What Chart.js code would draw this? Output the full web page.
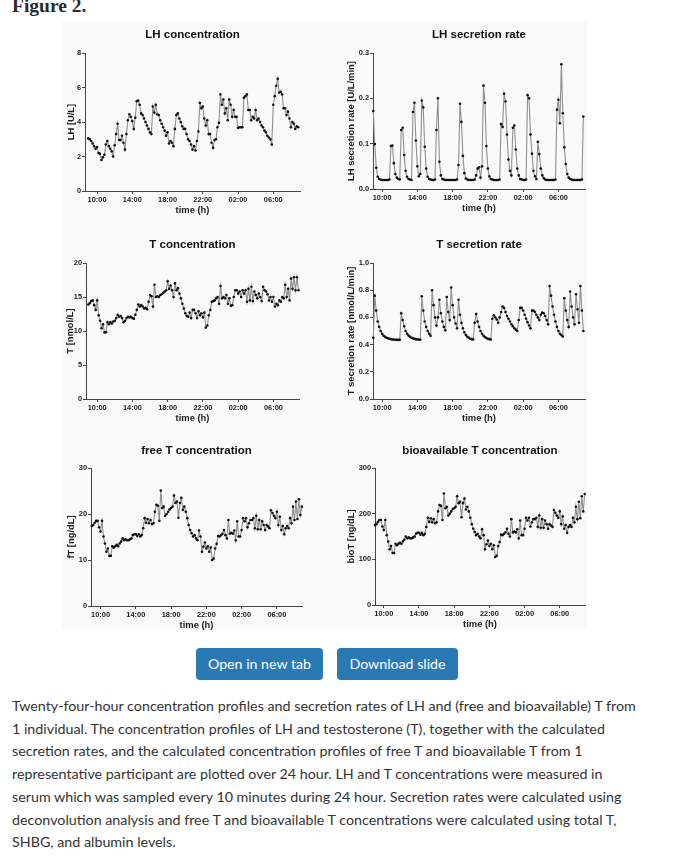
<!DOCTYPE html>
<html>
<head>
<meta charset="utf-8">
<script src="https://cdn.jsdelivr.net/npm/chart.js@4.4.0/dist/chart.umd.min.js"></script>
<style>
  body { margin: 0; background: #fff; width: 681px; height: 867px; overflow: hidden; position: relative; font-family: Lato, 'Open Sans', sans-serif; }
  .fig-head { position: absolute; left: 12px; top: -4px; font: bold 19.5px/19.5px 'Liberation Serif', serif; color: #2a2a2a; white-space: nowrap; }
  .figbox { position: absolute; left: 62px; top: 22px; width: 525px; height: 608px; background: #f9f9f9; }
  canvas { position: absolute; }
  .btn { position: absolute; top: 648px; height: 32px; line-height: 32px; background: #2a79b5; color: #fff; border-radius: 4px; font-size: 14.2px; text-align: center; }
  .caption { position: absolute; left: 12px; top: 695px; line-height: 22.7px; color: #333; white-space: nowrap; font-size: 16px; }
  .caption span { display: block; }
</style>
</head>
<body>
<div class="fig-head">Figure 2.</div>
<div class="figbox"></div>
<canvas id="c1"></canvas>
<canvas id="c2"></canvas>
<canvas id="c3"></canvas>
<canvas id="c4"></canvas>
<canvas id="c5"></canvas>
<canvas id="c6"></canvas>
<div class="btn" style="left:196px;width:127px;">Open in new tab</div>
<div class="btn" style="left:337px;width:121px;">Download slide</div>
<div class="caption" id="caption">
  <span id="capLine1">Twenty-four-hour concentration profiles and secretion rates of LH and (free and bioavailable) T from</span>
  <span>1 individual. The concentration profiles of LH and testosterone (T), together with the calculated</span>
  <span>secretion rates, and the calculated concentration profiles of free T and bioavailable T from 1</span>
  <span>representative participant are plotted over 24 hour. LH and T concentrations were measured in</span>
  <span>serum which was sampled every 10 minutes during 24 hour. Secretion rates were calculated using</span>
  <span>deconvolution analysis and free T and bioavailable T concentrations were calculated using total T,</span>
  <span>SHBG, and albumin levels.</span>
</div>
<script>
// samples every 10 min, first one at 09:00
const lhConc = [
  3.05,3.0,2.9,2.75,2.6,2.45,2.55,2.2,2.15,1.8,
  1.95,2.1,2.7,2.9,2.6,2.45,2.3,2.0,2.65,3.3,
  3.9,2.95,2.95,3.2,2.8,2.4,3.3,4.1,4.45,4.3,
  4.05,3.6,4.25,5.2,5.25,5.0,4.5,4.4,4.2,4.0,
  3.8,3.6,3.4,3.3,4.9,4.55,5.0,4.45,4.4,4.1,
  3.9,3.7,3.5,3.2,3.4,2.75,2.9,2.8,2.6,3.6,
  4.4,4.5,4.2,4.0,3.75,3.6,3.6,3.3,3.0,2.9,
  2.7,2.4,2.6,2.35,2.9,3.45,5.1,4.8,4.9,4.2,
  3.8,4.1,3.3,3.3,2.8,2.5,2.95,3.0,3.7,3.95,
  5.6,5.0,5.3,4.5,4.8,4.1,5.3,5.0,4.3,4.7,
  4.3,4.3,3.65,3.7,3.7,3.7,5.4,5.5,5.6,4.7,
  4.7,4.1,4.3,4.2,4.7,4.1,4.2,4.0,3.8,3.7,
  3.5,3.4,3.2,3.1,3.0,2.7,5.0,5.5,6.1,6.5,
  5.7,5.75,5.6,4.8,4.8,4.4,4.6,4.2,3.7,4.0,
  3.9,3.6,3.75,3.7
];
const lhSecretion = [
  0.172,0.099,0.047,0.027,0.022,0.021,0.02,0.02,0.02,0.02,
  0.02,0.021,0.095,0.096,0.057,0.033,0.025,0.022,0.021,0.13,
  0.135,0.075,0.04,0.027,0.022,0.021,0.02,0.17,0.19,0.107,
  0.05,0.028,0.033,0.195,0.18,0.093,0.045,0.027,0.022,0.021,
  0.02,0.02,0.021,0.13,0.2,0.06,0.03,0.022,0.021,0.02,
  0.02,0.02,0.02,0.02,0.02,0.02,0.02,0.021,0.053,0.188,
  0.148,0.073,0.035,0.023,0.021,0.02,0.02,0.02,0.02,0.021,
  0.03,0.045,0.048,0.025,0.05,0.228,0.19,0.095,0.045,0.028,
  0.022,0.021,0.02,0.02,0.02,0.02,0.021,0.143,0.137,0.21,
  0.193,0.12,0.065,0.04,0.03,0.135,0.14,0.087,0.045,0.03,
  0.022,0.021,0.02,0.02,0.021,0.207,0.2,0.12,0.078,0.04,
  0.028,0.022,0.104,0.077,0.045,0.03,0.024,0.021,0.02,0.02,
  0.02,0.02,0.02,0.02,0.021,0.175,0.197,0.145,0.275,0.167,
  0.092,0.055,0.033,0.025,0.022,0.021,0.02,0.02,0.02,0.02,
  0.02,0.02,0.021,0.16
];
const tConc = [
  13.9,14.1,14.4,14.5,13.8,13.1,14.5,12.3,11.5,10.4,
  11.0,9.8,9.8,11.3,11.0,11.3,11.1,11.4,11.5,11.9,
  12.4,12.1,12.2,11.9,11.3,11.5,11.9,12.1,12.0,12.1,
  11.9,11.8,12.4,13.1,13.9,13.6,13.8,13.6,13.3,13.4,
  13.2,14.3,15.3,15.1,13.6,16.8,15.0,15.1,15.0,15.3,
  15.4,15.6,15.8,16.0,17.3,16.2,16.7,16.0,15.0,17.0,
  16.0,16.3,15.5,14.8,14.0,13.3,12.6,12.2,12.1,12.7,
  11.9,13.1,13.1,12.6,11.9,12.9,12.3,12.6,12.0,12.7,
  10.5,10.8,12.3,13.1,14.3,14.4,14.5,14.8,15.0,14.0,
  16.6,14.8,15.0,14.8,15.3,14.0,14.8,13.7,13.8,15.0,
  16.0,16.0,15.5,15.8,15.0,16.0,15.5,16.0,14.3,16.2,
  14.5,16.5,14.4,15.8,15.3,14.8,15.5,15.0,14.4,16.5,
  16.0,15.8,15.4,14.5,15.0,14.3,15.0,13.6,14.0,13.8,
  14.5,14.3,15.0,14.8,16.8,15.0,16.2,14.5,17.7,16.2,
  17.9,16.0,17.9,16.0
];
const tSecretion = [
  0.45,0.76,0.65,0.57,0.53,0.50,0.48,0.465,0.457,0.45,
  0.446,0.443,0.44,0.438,0.437,0.436,0.435,0.435,0.435,0.63,
  0.58,0.535,0.50,0.48,0.466,0.457,0.45,0.446,0.443,0.44,
  0.438,0.437,0.436,0.755,0.65,0.57,0.53,0.50,0.48,0.465,
  0.80,0.69,0.60,0.54,0.60,0.73,0.63,0.57,0.53,0.505,
  0.75,0.64,0.58,0.82,0.69,0.60,0.555,0.52,0.73,0.62,
  0.56,0.52,0.49,0.47,0.458,0.45,0.443,0.44,0.437,0.56,
  0.625,0.57,0.53,0.50,0.48,0.465,0.455,0.448,0.443,0.44,
  0.437,0.59,0.615,0.60,0.585,0.56,0.60,0.64,0.68,0.67,
  0.64,0.61,0.59,0.57,0.55,0.535,0.52,0.51,0.50,0.58,
  0.67,0.67,0.65,0.62,0.59,0.565,0.54,0.52,0.65,0.65,
  0.64,0.62,0.60,0.58,0.62,0.635,0.63,0.61,0.58,0.55,
  0.83,0.76,0.68,0.62,0.57,0.53,0.50,0.48,0.47,0.46,
  0.74,0.65,0.58,0.53,0.79,0.68,0.60,0.55,0.77,0.66,
  0.56,0.83,0.65,0.50
];
const freeT = [
  17.4,17.6,18.1,18.5,18.5,17.1,16.2,18.5,15.1,13.6,
  11.8,12.5,10.9,10.9,13.0,12.7,13.0,13.3,13.0,13.6,
  14.0,14.7,14.3,14.5,14.3,14.3,14.5,14.7,15.4,15.6,
  15.6,15.2,15.6,15.1,15.4,16.9,19.1,18.1,18.9,18.0,
  18.7,17.8,18.0,20.5,22.0,21.8,18.5,25.1,21.3,21.6,
  19.6,20.0,20.5,21.0,21.3,21.6,24.0,22.4,22.7,19.2,
  22.4,23.5,20.9,21.6,20.5,19.1,17.6,16.5,15.8,15.1,
  15.4,14.7,14.3,16.4,15.1,11.8,12.9,13.8,12.5,13.0,
  11.8,12.7,10.0,10.3,12.5,13.5,15.2,15.1,15.4,15.7,
  16.5,15.4,14.7,18.7,15.7,15.9,15.7,16.4,14.3,18.4,
  15.1,15.1,16.5,19.1,18.4,19.1,17.1,18.0,18.7,18.7,
  19.1,16.9,19.6,16.7,18.7,16.7,18.4,17.6,16.5,17.6,
  17.3,16.9,20.8,20.2,19.6,19.1,20.5,17.6,19.4,16.5,
  17.4,15.6,16.9,17.4,16.9,19.1,18.0,21.6,18.7,22.7,
  18.9,23.2,19.8,21.6
];
const bioT = [
  175,177,182,186,186,172,164,186,153,139,
  122,129,114,114,134,131,134,136,134,139,
  143,150,146,148,146,146,148,150,156,158,
  158,154,158,153,156,171,191,182,190,181,
  188,179,181,205,219,217,186,244,212,215,
  196,200,205,210,212,215,238,223,226,192,
  223,233,209,215,205,191,177,167,160,153,
  156,150,146,166,153,122,133,141,129,134,
  122,131,105,108,129,138,154,153,156,159,
  167,156,150,188,159,161,159,166,146,185,
  153,153,167,191,185,191,172,181,188,188,
  191,171,196,169,188,169,185,177,167,177,
  174,171,208,202,196,191,205,177,194,167,
  175,158,171,175,171,191,181,215,188,226,
  190,238,205,243
];

// sample clock times in minutes after midnight of day 1
const sampleTimes = lhConc.map((_, i) => 540 + 10 * i);
const timeTicks = [600, 840, 1080, 1320, 1560, 1800];
const timeTickLabels = ['10:00', '14:00', '18:00', '22:00', '02:00', '06:00'];

const lhConcTicks = [0, 2, 4, 6, 8];
const lhSecTicks = [0, 0.1, 0.2, 0.3];
const lhSecTickLabels = ['0.0', '0.1', '0.2', '0.3'];
const tConcTicks = [0, 5, 10, 15, 20];
const tSecTicks = [0, 0.2, 0.4, 0.6, 0.8, 1.0];
const tSecTickLabels = ['0.0', '0.2', '0.4', '0.6', '0.8', '1.0'];
const freeTTicks = [0, 10, 20, 30];
const bioTTicks = [0, 100, 200, 300];

Chart.defaults.font.family = "'Liberation Sans', Arial, sans-serif";
Chart.defaults.font.weight = 'bold';
Chart.defaults.color = '#1a1a1a';

// area = [left, top, right, bottom] of the plot box on the page
const panels = [
  { id: 'c1', title: 'LH concentration', yTitle: 'LH [U/L]', values: lhConc, yTicks: lhConcTicks, yLabels: lhConcTicks.map(String),
    area: [85, 53, 301, 190.5], titleY: 35, yTitleX: 71.5, xMin: 518, xMax: 1982 },
  { id: 'c2', title: 'LH secretion rate', yTitle: 'LH secretion rate [U/L/min]', values: lhSecretion, yTicks: lhSecTicks, yLabels: lhSecTickLabels,
    area: [373, 53, 586, 189], titleY: 35, yTitleX: 351.8, xMin: 538, xMax: 1981 },
  { id: 'c3', title: 'T concentration', yTitle: 'T [nmol/L]', values: tConc, yTicks: tConcTicks, yLabels: tConcTicks.map(String),
    area: [86, 263, 300, 399], titleY: 245, yTitleX: 70.2, xMin: 524, xMax: 1974 },
  { id: 'c4', title: 'T secretion rate', yTitle: 'T secretion rate [nmol/L/min]', values: tSecretion, yTicks: tSecTicks, yLabels: tSecTickLabels,
    area: [373, 263, 586, 399], titleY: 245, yTitleX: 351.2, xMin: 538, xMax: 1981 },
  { id: 'c5', title: 'free T concentration', yTitle: 'fT [ng/dL]', values: freeT, yTicks: freeTTicks, yLabels: freeTTicks.map(String),
    area: [91, 468, 303, 605.5], titleY: 451, yTitleX: 71.5, xMin: 535, xMax: 1971 },
  { id: 'c6', title: 'bioavailable T concentration', yTitle: 'bioT [ng/dL]', values: bioT, yTicks: bioTTicks, yLabels: bioTTicks.map(String),
    area: [375, 468, 586, 604.5], titleY: 451, yTitleX: 351.5, xMin: 540, xMax: 1972 }
];

const TITLE_SIZE = 11.5;
const AXIS_TITLE_SIZE = 9.4;
const TICK_SIZE = 7.4;
const TITLE_BLOCK = 28;
const X_AXIS_H = 26;

panels.forEach(p => {
  const [l, t, r, b] = p.area;
  const yTitleOffset = 1 + AXIS_TITLE_SIZE * 1.2 / 2;
  const left = Math.round(p.yTitleX - yTitleOffset);
  const top = t - TITLE_BLOCK;
  const width = Math.round(r + 3 - left);
  const height = Math.round(b + X_AXIS_H - top);
  const canvas = document.getElementById(p.id);
  canvas.width = width;
  canvas.height = height;
  canvas.style.left = left + 'px';
  canvas.style.top = top + 'px';
  const yW = l - left;
  const padTop = p.titleY - top - TITLE_SIZE * 1.2 / 2;

  new Chart(canvas.getContext('2d'), {
    type: 'line',
    data: {
      datasets: [{
        data: p.values.map((v, i) => ({ x: sampleTimes[i], y: v })),
        borderColor: '#8f8f8f',
        borderWidth: 1.1,
        pointRadius: 1.3,
        pointBackgroundColor: '#111',
        pointBorderWidth: 0,
        tension: 0,
        clip: 4
      }]
    },
    options: {
      responsive: false,
      animation: false,
      layout: { padding: 0 },
      plugins: {
        legend: { display: false },
        title: {
          display: true,
          text: p.title,
          fullSize: false,
          color: '#111',
          font: { size: TITLE_SIZE, weight: 'bold' },
          padding: { top: padTop, bottom: TITLE_BLOCK - padTop - TITLE_SIZE * 1.2 }
        }
      },
      scales: {
        x: {
          type: 'linear',
          min: p.xMin,
          max: p.xMax,
          afterBuildTicks: ax => { ax.ticks = timeTicks.map(v => ({ value: v })); },
          afterFit: ax => { ax.height = X_AXIS_H; },
          ticks: {
            autoSkip: false,
            maxRotation: 0,
            padding: 2,
            font: { size: TICK_SIZE, weight: 'bold' },
            callback: (v, i) => timeTickLabels[i]
          },
          grid: { drawOnChartArea: false, drawTicks: true, tickLength: 3, color: '#444' },
          border: { display: true, color: '#444', width: 1 },
          title: { display: true, text: 'time (h)', padding: { top: 0, bottom: 1 }, font: { size: AXIS_TITLE_SIZE, weight: 'bold' } }
        },
        y: {
          min: 0,
          max: p.yTicks[p.yTicks.length - 1],
          afterBuildTicks: ax => { ax.ticks = p.yTicks.map(v => ({ value: v })); },
          afterFit: ax => { ax.width = yW; },
          ticks: {
            padding: 1,
            font: { size: TICK_SIZE, weight: 'bold' },
            callback: (v, i) => p.yLabels[i]
          },
          grid: { drawOnChartArea: false, drawTicks: true, tickLength: 3, color: '#444' },
          border: { display: true, color: '#444', width: 1 },
          title: { display: true, text: p.yTitle, padding: { top: 1, bottom: 0 }, font: { size: AXIS_TITLE_SIZE, weight: 'bold' } }
        }
      }
    }
  });
});

// fit caption size so the first line spans the same width as in the page
const cap = document.getElementById('caption');
const line1 = document.getElementById('capLine1');
line1.style.display = 'inline-block';
const w = line1.getBoundingClientRect().width;
line1.style.display = 'block';
cap.style.fontSize = (16 * 624 / w).toFixed(2) + 'px';
</script>
</body>
</html>
